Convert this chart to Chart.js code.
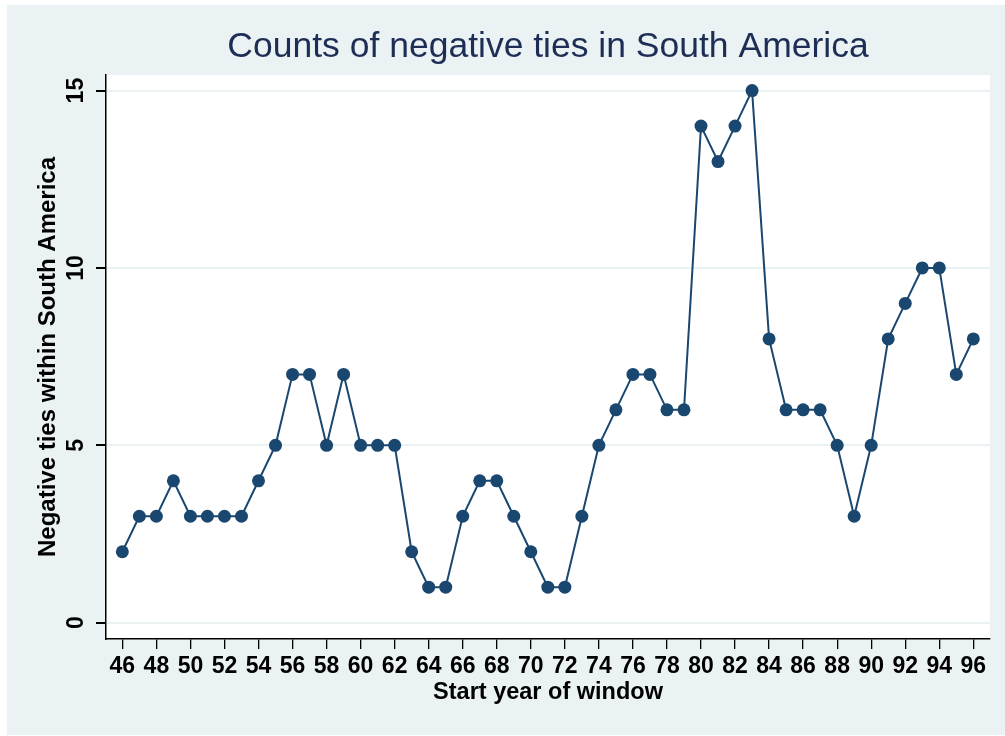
<!DOCTYPE html>
<html>
<head>
<meta charset="utf-8">
<title>Counts of negative ties in South America</title>
<script src="https://cdn.jsdelivr.net/npm/chart.js@4.4.1/dist/chart.umd.min.js"></script>
<style>
    html, body { margin: 0; padding: 0; background: #fff; }
    canvas { display: block; }
</style>
</head>
<body>
<canvas id="tiesChart" width="1005" height="736"></canvas>
<script>
// Data
const startYears = [46, 47, 48, 49, 50, 51, 52, 53, 54, 55, 56, 57, 58, 59, 60, 61, 62, 63, 64, 65,
    66, 67, 68, 69, 70, 71, 72, 73, 74, 75, 76, 77, 78, 79, 80, 81, 82, 83, 84, 85,
    86, 87, 88, 89, 90, 91, 92, 93, 94, 95, 96];
const negativeTies = [2, 3, 3, 4, 3, 3, 3, 3, 4, 5, 7, 7, 5, 7, 5, 5, 5, 2, 1, 1,
    3, 4, 4, 3, 2, 1, 1, 3, 5, 6, 7, 7, 6, 6, 14, 13, 14, 15, 8, 6,
    6, 6, 5, 3, 5, 8, 9, 10, 10, 7, 8];
const xTickLabels = [46, 48, 50, 52, 54, 56, 58, 60, 62, 64, 66, 68, 70, 72, 74, 76, 78, 80, 82, 84, 86, 88, 90, 92, 94, 96];
const yTickLabels = [0, 5, 10, 15];

const fontFamily = "'Liberation Sans', Arial, Helvetica, sans-serif";
const navy = '#1a476f';
const paleBlue = '#eaf2f3';

// Stata-like backgrounds: pale graph region, white plot region
const background = {
    id: 'background',
    beforeDraw(chart) {
        const { ctx, chartArea: a } = chart;
        ctx.save();
        ctx.fillStyle = '#ffffff';
        ctx.fillRect(0, 0, chart.width, chart.height);
        ctx.fillStyle = paleBlue;
        ctx.fillRect(7, 5, chart.width - 7, chart.height - 6);
        ctx.fillStyle = '#ffffff';
        ctx.fillRect(a.left, a.top, a.right - a.left, a.bottom - a.top);
        ctx.restore();
    }
};

// y tick labels are rotated like the original, so draw them here
const rotatedYLabels = {
    id: 'rotatedYLabels',
    afterDraw(chart) {
        const { ctx } = chart;
        const y = chart.scales.y;
        ctx.save();
        ctx.fillStyle = '#000';
        ctx.font = 'bold 23px ' + fontFamily;
        ctx.textAlign = 'center';
        ctx.textBaseline = 'middle';
        y.ticks.forEach(function(t) {
            ctx.save();
            ctx.translate(77, y.getPixelForValue(t.value));
            ctx.rotate(-Math.PI / 2);
            ctx.fillText(String(t.value), 0, 0);
            ctx.restore();
        });
        ctx.restore();
    }
};

const ctx = document.getElementById('tiesChart').getContext('2d');
new Chart(ctx, {
    type: 'line',
    data: {
        datasets: [{
            label: 'Negative ties',
            data: startYears.map((yr, i) => ({ x: yr, y: negativeTies[i] })),
            borderColor: navy,
            backgroundColor: navy,
            borderWidth: 2,
            pointRadius: 6.5,
            pointBorderWidth: 0,
            pointBackgroundColor: navy,
            tension: 0,
            fill: false
        }]
    },
    options: {
        responsive: false,
        animation: false,
        layout: { padding: { top: 5, right: 15, left: 0, bottom: 0 } },
        plugins: {
            legend: { display: false },
            tooltip: { enabled: false },
            title: {
                display: true,
                fullSize: false,
                text: 'Counts of negative ties in South America',
                color: '#1e2d55',
                font: { family: fontFamily, size: 35.5, weight: 'normal', lineHeight: 1.2 },
                padding: { top: 21.2, bottom: 6.2 }
            }
        },
        scales: {
            x: {
                type: 'linear',
                min: 45.04,
                max: 96.98,
                afterBuildTicks: function(scale) {
                    scale.ticks = xTickLabels.map(v => ({ value: v }));
                },
                afterFit: function(scale) { scale.height = 97; },
                grid: { drawOnChartArea: false, color: '#000', tickLength: 10, lineWidth: 1.3 },
                border: { color: '#000', width: 1.5 },
                ticks: {
                    color: '#000',
                    font: { family: fontFamily, size: 23, weight: 'bold' },
                    padding: 4,
                    maxRotation: 0,
                    autoSkip: false,
                    callback: function(value) { return value; }
                },
                title: {
                    display: true,
                    text: 'Start year of window',
                    color: '#000',
                    font: { family: fontFamily, size: 23.5, weight: 'bold', lineHeight: 1.2 },
                    padding: { top: 0, bottom: 29.8 }
                }
            },
            y: {
                min: -0.46,
                max: 15.44,
                afterBuildTicks: function(scale) {
                    scale.ticks = yTickLabels.map(v => ({ value: v }));
                },
                afterFit: function(scale) { scale.width = 106; },
                grid: { color: paleBlue, lineWidth: 2, tickColor: '#000', tickLength: 10 },
                border: { color: '#000', width: 1.5 },
                ticks: { display: false },
                title: {
                    display: true,
                    text: 'Negative ties within South America',
                    color: '#000',
                    font: { family: fontFamily, size: 24, weight: 'bold', lineHeight: 1.2 },
                    padding: { top: 33.6, bottom: 0 }
                }
            }
        }
    },
    plugins: [background, rotatedYLabels]
});
</script>
</body>
</html>
